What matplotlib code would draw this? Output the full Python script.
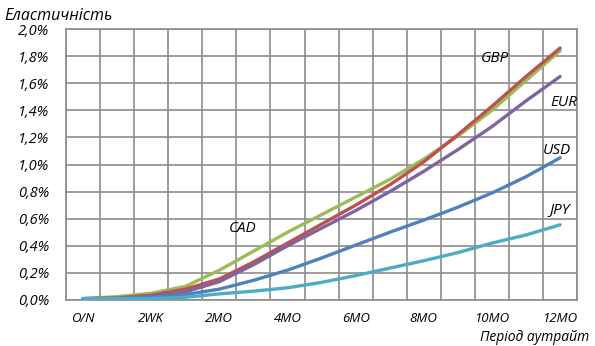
import numpy as np
import matplotlib.pyplot as plt
from matplotlib.ticker import FuncFormatter, FixedLocator

# Data
periods = ["O/N", "1WK", "2WK", "1MO", "2MO", "3MO", "4MO", "5MO",
           "6MO", "7MO", "8MO", "9MO", "10MO", "11MO", "12MO"]
cad = [0.01, 0.025, 0.05, 0.10, 0.22, 0.36, 0.50, 0.63, 0.76, 0.89, 1.04, 1.21, 1.40, 1.62, 1.84]
gbp = [0.01, 0.015, 0.035, 0.08, 0.155, 0.28, 0.42, 0.56, 0.70, 0.85, 1.02, 1.22, 1.43, 1.65, 1.86]
eur = [0.01, 0.01, 0.03, 0.06, 0.135, 0.26, 0.40, 0.53, 0.66, 0.80, 0.95, 1.11, 1.28, 1.47, 1.65]
usd = [0.01, 0.01, 0.015, 0.04, 0.08, 0.145, 0.22, 0.31, 0.405, 0.50, 0.59, 0.685, 0.79, 0.91, 1.05]
jpy = [0.01, 0.01, 0.01, 0.02, 0.045, 0.065, 0.09, 0.13, 0.18, 0.235, 0.29, 0.35, 0.42, 0.48, 0.555]

series = [
    ("CAD", cad, "#9BBB59", (4.7, 0.53)),
    ("GBP", gbp, "#C0504D", (12.1, 1.78)),
    ("EUR", eur, "#8064A2", (14.1, 1.46)),
    ("USD", usd, "#4F81BD", (13.9, 1.10)),
    ("JPY", jpy, "#4BACC6", (14.0, 0.67)),
]

plt.rcParams['font.family'] = ['Open Sans', 'DejaVu Sans']
plt.rcParams['font.style'] = 'italic'

fig = plt.figure(figsize=(5.95, 3.46), dpi=100)
ax = fig.add_axes([0.111, 0.133, 0.859, 0.783])

x = np.arange(len(periods))
for name, vals, color, (tx, ty) in series:
    ax.plot(x, vals, color=color, lw=2.4, solid_capstyle='round', zorder=3)
    ax.text(tx, ty, name, fontsize=11, ha='center', va='center', style='italic')

ax.set_xlim(-0.5, len(periods) - 0.5)
ax.set_ylim(0, 2.0)

# gridlines sit between categories, labels on every other category
ax.xaxis.set_minor_locator(FixedLocator(np.arange(-0.5, len(periods), 1.0)))
ax.set_xticks(x[::2])
ax.set_xticklabels(periods[::2], fontsize=9.5, style='italic')
ax.set_yticks(np.arange(0, 2.01, 0.2))
ax.yaxis.set_major_formatter(FuncFormatter(lambda v, _: f"{v:.1f}%".replace('.', ',')))
for lbl in ax.get_yticklabels():
    lbl.set_fontsize(10.5)
    lbl.set_style('italic')

ax.grid(axis='y', which='major', color='#8c8c8c', lw=1.2)
ax.grid(axis='x', which='minor', color='#8c8c8c', lw=1.2)
ax.tick_params(axis='both', which='both', length=0)
ax.tick_params(axis='y', pad=12)
ax.tick_params(axis='x', pad=9)
for s in ax.spines.values():
    s.set_color('#8c8c8c')
    s.set_linewidth(1.2)
ax.set_axisbelow(True)

fig.text(0.008, 0.955, "Еластичність", fontsize=11.5, style='italic', ha='left', va='center')
fig.text(0.99, 0.025, "Період аутрайт", fontsize=10, style='italic', ha='right', va='center')

fig.savefig("out.png", dpi=100)
